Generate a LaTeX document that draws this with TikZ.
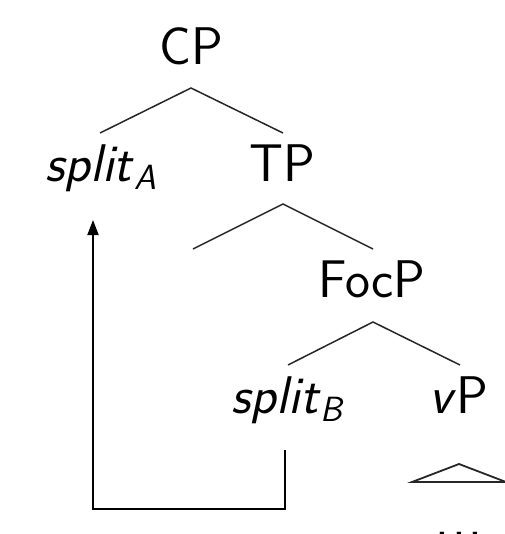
\documentclass[tikz,border=0pt]{standalone}
\usetikzlibrary{arrows.meta}
\newcommand{\subsf}[1]{\raisebox{-8pt}{\fontsize{35}{40}\selectfont\textit{#1}}}
\begin{document}
\begin{tikzpicture}[x=1pt,y=-1pt,
  lab/.style={anchor=base,inner sep=0pt,font=\sffamily\fontsize{53}{62}\selectfont},
  branch/.style={line width=1.5pt,black!85},
  mover/.style={line width=1.8pt,-{Triangle[width=11pt,length=15pt]}}]
\useasboundingbox (0,0) rectangle (504,534);
\node[lab] (cp) at (191,65) {CP};
\node[lab] (spa) at (101,182) {\textit{split}\subsf{A}};
\node[lab] (tp) at (282,182) {TP};
\node[lab] (foc) at (372,297) {FocP};
\node[lab] (spb) at (288,413) {\textit{split}\subsf{B}};
\node[lab] (vp) at (459,413) {\textit{v}P};
\node[lab] (dots) at (459,536) {.\kern3pt.\kern3pt.};
% tree branches
\coordinate (a1) at (191,88);
\coordinate (a1l) at (100,133);
\coordinate (a1r) at (283,133);
\draw[branch] (a1l) -- (a1) -- (a1r);
\coordinate (a2) at (283,204);
\coordinate (a2l) at (193,249);
\coordinate (a2r) at (373,249);
\draw[branch] (a2l) -- (a2) -- (a2r);
\coordinate (a3) at (373,322);
\coordinate (a3l) at (288,365);
\coordinate (a3r) at (460,365);
\draw[branch] (a3l) -- (a3) -- (a3r);
% triangle
\coordinate (t1) at (459,464);
\coordinate (t2) at (412,482);
\coordinate (t3) at (506,482);
\draw[branch,line width=1.8pt] (t2) -- (t1) -- (t3) -- cycle;
% movement arrow
\coordinate (m0) at (285,450);
\coordinate (m1) at (285,509);
\coordinate (m2) at (93,509);
\coordinate (m3) at (93,220);
\draw[mover] (m0) -- (m1) -- (m2) -- (m3);
\end{tikzpicture}
\end{document}
